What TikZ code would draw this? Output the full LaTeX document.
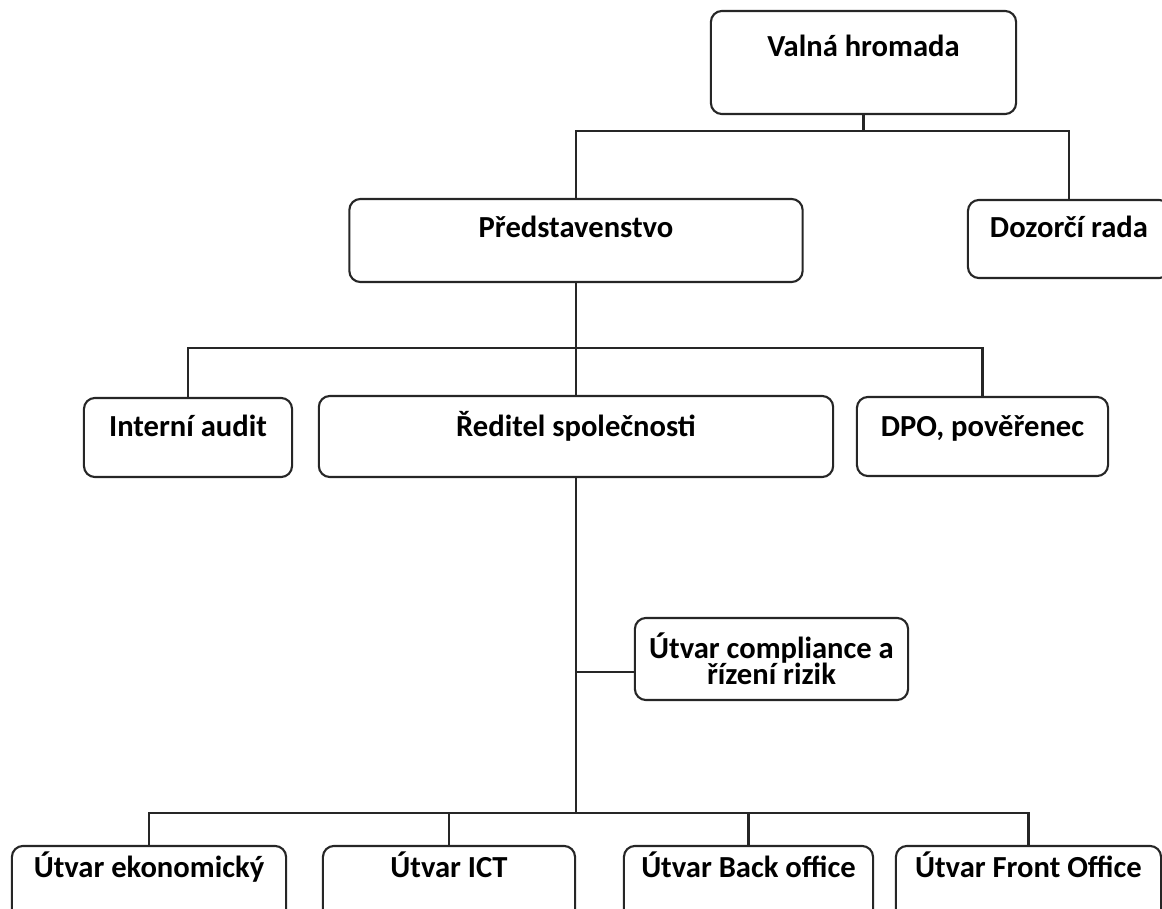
\documentclass[tikz,border=0pt]{standalone}
\usepackage{fontspec}
\setmainfont{Carlito}
\usepackage{tikz}
\usetikzlibrary{calc}
\tikzset{unit/.style={draw=black!85, line width=.6pt, rounded corners=1.1mm, inner sep=0pt, align=center, font=\bfseries\fontsize{8.7}{7.5}\selectfont}}
\tikzset{elbow/.style={to path={-| (\tikztotarget)}}}
\tikzset{link/.style={draw=black!85, line width=.6pt}}

\begin{document}
\begin{tikzpicture}[x=0.01cm, y=-0.01cm]
  \clip (0,0) rectangle (1162,909);
  \node[unit, minimum width=3.05cm, text height=4.6mm, text depth=5.7mm] (valna) at (863.5,62.5) {Valná hromada};
  \node[unit, minimum width=4.53cm, text height=3.9mm, text depth=4.4mm] (predstav) at (576,240.5) {Představenstvo};
  \node[unit, minimum width=2.02cm, text height=3.8mm, text depth=4.0mm] (dozorci) at (1069,239) {Dozorčí rada};
  \node[unit, minimum width=2.08cm, text height=3.9mm, text depth=4.0mm] (interni) at (188,437.5) {Interní audit};
  \node[unit, minimum width=5.14cm, text height=4.1mm, text depth=4.0mm] (reditel) at (576,436.5) {Ředitel společnosti};
  \node[unit, minimum width=2.51cm, text height=4.0mm, text depth=3.9mm] (dpo) at (982.5,436.5) {DPO, pověřenec};
  \node[unit, minimum width=2.73cm, minimum height=8.2mm] (compl) at (771.5,659) {Útvar compliance a\\řízení rizik};
  \node[unit, minimum width=2.74cm, text height=3.2mm, text depth=4.7mm] (eko) at (149,885.5) {Útvar ekonomický};
  \node[unit, minimum width=2.52cm, text height=3.2mm, text depth=4.7mm] (ict) at (449,885.5) {Útvar ICT};
  \node[unit, minimum width=2.49cm, text height=3.2mm, text depth=4.7mm] (back) at (748.5,885.5) {Útvar Back office};
  \node[unit, minimum width=2.65cm, text height=3.2mm, text depth=4.7mm] (front) at (1028.5,885.5) {Útvar Front Office};
  \coordinate (bus1) at (863.5,131);
  \coordinate (bus2) at (576,348);
  \coordinate (tap) at (576,672);
  \coordinate (tapend) at (compl.west |- tap);
  \coordinate (bus3) at (576,813);
  \draw[link] (valna) edge (bus1)
    (bus1) edge[elbow] (predstav.north) edge[elbow] (dozorci.north)
    (predstav) edge (bus2)
    (bus2) edge[elbow] (interni.north) edge[elbow] (reditel.north) edge[elbow] (dpo.north)
    (reditel) edge (bus3)
    (tap) edge (tapend)
    (bus3) edge[elbow] (eko.north) edge[elbow] (ict.north) edge[elbow] (back.north) edge[elbow] (front.north);
\end{tikzpicture}
\end{document}
